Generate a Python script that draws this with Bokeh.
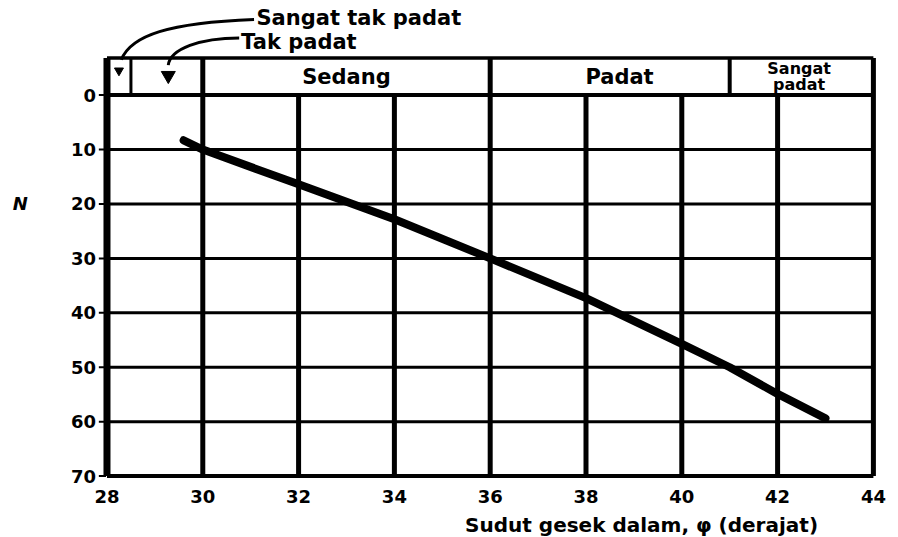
import numpy as np
from bokeh.plotting import figure
from bokeh.models import Range1d
from bokeh.core.properties import value
from bokeh.embed import file_html
from bokeh.resources import INLINE

# ---- data ----
phi = [29.6, 30.0, 32.0, 34.0, 36.0, 38.0, 40.0, 41.0, 42.0, 43.0]
N_vals = [8.3, 10.0, 16.4, 22.8, 30.0, 37.3, 45.7, 50.0, 54.9, 59.4]

x_ticks = [28, 30, 32, 34, 36, 38, 40, 42, 44]
x_tick_labels = ["28", "30", "32", "34", "36", "38", "40", "42", "44"]
y_ticks = [0, 10, 20, 30, 40, 50, 60, 70]
y_tick_labels = ["0", "10", "20", "30", "40", "50", "60", "70"]

band_edges = [28.0, 28.5, 30.0, 36.0, 41.0, 44.0]
band_names = ["Sedang", "Padat", "Sangat\npadat"]
band_label_x = [33.0, 38.7, 42.45]
band_top = -6.8

x_title = "Sudut gesek dalam, \u03c6 (derajat)"
y_title = "N"

FONT = "DejaVu Sans"
W, H = 898, 537

p = figure(width=W, height=H,
           x_range=Range1d(25.777, 44.524), y_range=Range1d(81.28, -17.38),
           output_backend="svg", toolbar_location=None,
           min_border_left=0, min_border_right=0,
           min_border_top=0, min_border_bottom=0)
p.outline_line_color = None
p.axis.visible = False
p.xgrid.visible = False
p.ygrid.visible = False
p.background_fill_color = "white"

# horizontal grid lines
inner_y = y_ticks[1:-1]
p.segment(x0=[x_ticks[0]] * len(inner_y), x1=[x_ticks[-1]] * len(inner_y),
          y0=inner_y, y1=inner_y, line_color="black", line_width=3)
# vertical grid lines
inner_x = x_ticks[1:-1]
p.segment(x0=inner_x, x1=inner_x, y0=[y_ticks[0]] * len(inner_x),
          y1=[y_ticks[-1]] * len(inner_x), line_color="black", line_width=5)

# band dividers
p.segment(x0=band_edges[1:-1], x1=band_edges[1:-1],
          y0=[band_top] * 4, y1=[0] * 4, line_color="black",
          line_width=[3, 5, 5, 4])

# frame borders
p.segment(x0=[band_edges[0], band_edges[-1]], x1=[band_edges[0], band_edges[-1]],
          y0=[band_top, band_top], y1=[y_ticks[-1], y_ticks[-1]],
          line_color="black", line_width=[7, 5])
p.segment(x0=[x_ticks[0]] * 3, x1=[x_ticks[-1]] * 3,
          y0=[band_top, 0, y_ticks[-1]], y1=[band_top, 0, y_ticks[-1]],
          line_color="black", line_width=[3.5, 4, 4])

# y tick marks (left, outside)
p.segment(x0=[27.83] * len(y_ticks), x1=[27.98] * len(y_ticks),
          y0=y_ticks, y1=y_ticks, line_color="black", line_width=2)

# tick labels
p.text(x=[27.77] * len(y_ticks), y=y_ticks, text=y_tick_labels,
       text_font=value(FONT), text_font_style="bold", text_font_size="18px",
       text_align="right", text_baseline="middle", text_color="black")
p.text(x=x_ticks, y=[73.8] * len(x_ticks), text=x_tick_labels,
       text_font=value(FONT), text_font_style="bold", text_font_size="18px",
       text_align="center", text_baseline="middle", text_color="black")

# band labels
p.text(x=band_label_x[:2], y=[-3.4, -3.4], text=band_names[:2],
       text_font=value(FONT), text_font_style="bold", text_font_size="21px",
       text_align="center", text_baseline="middle", text_color="black")
p.text(x=[band_label_x[2]], y=[-3.4], text=[band_names[2]],
       text_font=value(FONT), text_font_style="bold", text_font_size="16px",
       text_align="center", text_baseline="middle", text_color="black",
       text_line_height=0.8)

# main curve
p.line(phi, N_vals, line_color="black", line_width=8, line_cap="round")

# pointer curves to narrow classes
ptr_x0 = [31.07, 30.76]
ptr_y0 = [-13.9, -10.5]
ptr_cx0 = [29.3, 29.95]
ptr_cy0 = [-13.3, -10.5]
ptr_cx1 = [28.5, 29.32]
ptr_cy1 = [-11.0, -8.5]
ptr_x1 = [28.3, 29.28]
ptr_y1 = [-6.5, -5.5]
p.bezier(x0=ptr_x0, y0=ptr_y0, x1=ptr_x1, y1=ptr_y1,
         cx0=ptr_cx0, cy0=ptr_cy0, cx1=ptr_cx1, cy1=ptr_cy1,
         line_color="black", line_width=3)
arrow_x = [28.25, 29.28]
arrow_y = [-4.5, -3.6]
p.scatter(x=arrow_x, y=arrow_y, marker="triangle", size=[9, 14], angle=np.pi,
          fill_color="black", line_color="black")

# top labels
p.text(x=[31.12, 30.8], y=[-14.2, -9.8], text=["Sangat tak padat", "Tak padat"],
       text_font=value(FONT), text_font_style="bold", text_font_size="21px",
       text_align="left", text_baseline="middle", text_color="black")

# axis titles
p.text(x=[26.19], y=[20.0], text=[y_title], text_font=value(FONT),
       text_font_style="bold italic", text_font_size="18px",
       text_align="center", text_baseline="middle", text_color="black")
p.text(x=[39.16], y=[78.9], text=[x_title], text_font=value(FONT),
       text_font_style="bold", text_font_size="20px", text_align="center",
       text_baseline="middle", text_color="black")

open("out.html", "w").write(file_html(p, INLINE))
